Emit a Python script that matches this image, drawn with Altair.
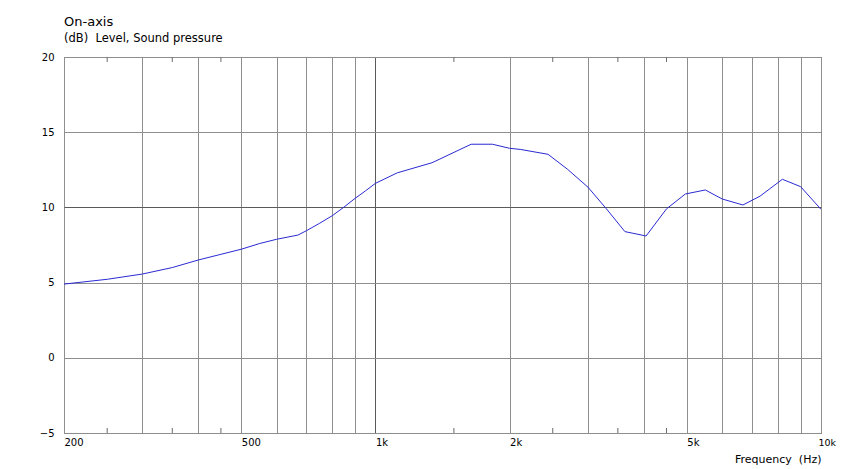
import altair as alt
import pandas as pd

# ---- data ----
freq = [200, 250, 300, 350, 400, 450, 500, 550, 600, 670, 700, 750, 800, 850, 900, 950,
        1000, 1120, 1340, 1640, 1830, 2000, 2120, 2440, 2700, 3000, 3300, 3630, 4050,
        4500, 4960, 5500, 6000, 6680, 7300, 8190, 9000, 10000]
level = [4.9, 5.22, 5.57, 6.0, 6.5, 6.88, 7.22, 7.6, 7.88, 8.16, 8.45, 8.95, 9.45, 10.02, 10.6, 11.1,
         11.6, 12.3, 12.97, 14.2, 14.2, 13.93, 13.85, 13.53, 12.53, 11.34, 9.9, 8.39, 8.1,
         9.9, 10.89, 11.16, 10.56, 10.16, 10.75, 11.87, 11.38, 9.87]

grid_x = [200, 300, 400, 500, 600, 700, 800, 900, 1000, 2000, 3000, 4000, 5000,
          6000, 7000, 8000, 9000, 10000]
label_x = [200, 500, 1000, 2000, 5000, 10000]
minor_x = [250, 350, 450, 1500, 2500, 3500, 4500]
y_ticks = [-5, 0, 5, 10, 15, 20]

title_text = ["On-axis", "(dB)\u00a0 Level, Sound pressure"]
x_title = "Frequency\u00a0 (Hz)"

W, H = 757, 376
FONT = "DejaVu Sans"

df = pd.DataFrame({"freq": freq, "level": level})
df_minor = pd.DataFrame({"f": minor_x})

xscale = alt.Scale(type="log", domain=[200, 10000], nice=False)
yscale = alt.Scale(domain=[-5, 20], nice=False)

label_list = "[" + ",".join(str(v) for v in label_x) + "]"
label_expr = (f"indexof({label_list}, datum.value) >= 0 ? "
              "(datum.value >= 1000 ? (datum.value/1000) + 'k' : datum.value + '') : ''")

x_axis = alt.Axis(
    values=grid_x, grid=True,
    gridColor={"condition": {"test": "datum.value == 1000", "value": "#5a5a5a"}, "value": "#8e8e8e"},
    gridWidth=1, ticks=False, domain=False,
    labelExpr=label_expr, labelAlign="left", labelBaseline="top", labelPadding=4,
    labelFont=FONT,
    labelFontSize={"condition": {"test": "datum.value == 10000", "value": 9.5}, "value": 10},
    labelOffset={"condition": {"test": "datum.value == 10000", "value": -3}, "value": 0},
    labelColor="#000", labelFlush=False, labelOverlap=False,
    title=x_title, titleFont=FONT, titleFontSize=11, titleFontWeight="normal", titleColor="#000",
    titleX=W, titleY=29, titleAlign="right", titleBaseline="alphabetic",
)
y_axis = alt.Axis(
    values=y_ticks, grid=True,
    gridColor={"condition": {"test": "datum.value == 10", "value": "#5a5a5a"}, "value": "#8e8e8e"},
    gridWidth=1, ticks=False, domain=False,
    labelFont=FONT, labelFontSize=10, labelColor="#000", labelPadding=10,
    labelAlign="right", labelBaseline="middle", labelFlush=False,
    title=None,
)

line = alt.Chart(df).mark_line(color="#2a2ad2", strokeWidth=1, clip=True).encode(
    x=alt.X("freq:Q", scale=xscale, axis=x_axis),
    y=alt.Y("level:Q", scale=yscale, axis=y_axis),
)

minor_bottom = alt.Chart(df_minor).mark_rule(color="#6a6a6a", strokeWidth=1).encode(
    x=alt.X("f:Q", scale=xscale), y=alt.value(H), y2=alt.value(H - 5)
)
minor_top = alt.Chart(df_minor).mark_rule(color="#6a6a6a", strokeWidth=1).encode(
    x=alt.X("f:Q", scale=xscale), y=alt.value(0), y2=alt.value(5)
)

df_title = pd.DataFrame({"t": [title_text[0]]})
df_sub = pd.DataFrame({"t": [title_text[1]]})
title_mark = alt.Chart(df_title).mark_text(
    align="left", baseline="alphabetic", font=FONT, fontSize=13, color="#000"
).encode(text="t:N", x=alt.value(0), y=alt.value(-31))
sub_mark = alt.Chart(df_sub).mark_text(
    align="left", baseline="alphabetic", font=FONT, fontSize=11.5, color="#000"
).encode(text="t:N", x=alt.value(0), y=alt.value(-15))

chart = alt.layer(minor_bottom, minor_top, line, title_mark, sub_mark).properties(
    width=W, height=H,
    autosize=alt.AutoSizeParams(type="none"),
    padding={"left": 56, "top": 49, "right": 15, "bottom": 35},
    background="white",
).configure_view(stroke="#5a5a5a", strokeWidth=1)

chart.save("out.html", embed_options={"renderer": "svg", "actions": False})
